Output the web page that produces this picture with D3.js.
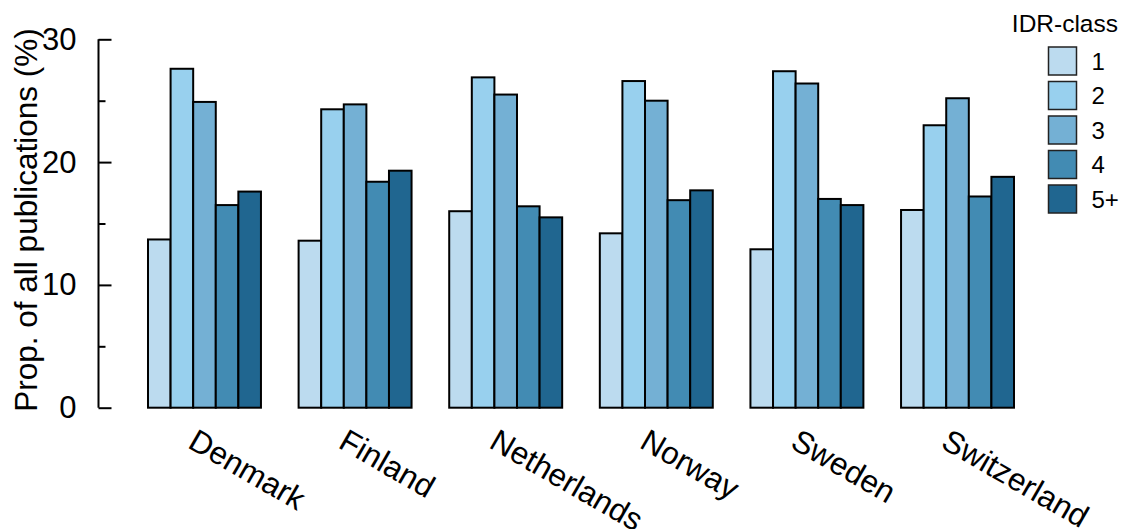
<!DOCTYPE html>
<html>
<head>
<meta charset="utf-8">
<script src="https://cdn.jsdelivr.net/npm/d3@7"></script>
<style>
  html, body { margin: 0; padding: 0; background: #fff; }
  svg { display: block; }
  text { font-family: "Liberation Sans", Arial, Helvetica, sans-serif; fill: #000; }
</style>
</head>
<body>
<svg id="chart" width="1127" height="529"></svg>
<script>
const countries = ["Denmark", "Finland", "Netherlands", "Norway", "Sweden", "Switzerland"];
const classes = ["1", "2", "3", "4", "5+"];
const classColors = ["#BCDBEF", "#98D0EE", "#74B0D4", "#428BB3", "#206690"];
const class1 = [13.7, 13.6, 16.0, 14.2, 12.9, 16.1];
const class2 = [27.6, 24.3, 26.9, 26.6, 27.4, 23.0];
const class3 = [24.9, 24.7, 25.5, 25.0, 26.4, 25.2];
const class4 = [16.5, 18.4, 16.4, 16.9, 17.0, 17.2];
const class5 = [17.6, 19.3, 15.5, 17.7, 16.5, 18.8];
const majorTicks = [0, 10, 20, 30];
const minorTicks = [5, 15, 25];
const yTitle = "Prop. of all publications (%)";
const legendTitle = "IDR-class";

const series = [class1, class2, class3, class4, class5];
const data = countries.map((c, i) => ({
  country: c,
  values: classes.map((k, j) => ({ cls: k, idx: j, value: series[j][i] }))
}));

const svg = d3.select("#chart");

const x0 = d3.scaleBand().domain(countries).range([148, 1014]).paddingInner(0.25).paddingOuter(0);
const x1 = d3.scaleBand().domain(classes).range([0, x0.bandwidth()]).padding(0);
const y = d3.scaleLinear().domain([0, 30]).range([407.7, 39.3]);
const color = d3.scaleOrdinal().domain(classes).range(classColors);

// bars
const groups = svg.append("g").selectAll("g")
  .data(data).join("g")
  .attr("transform", d => `translate(${x0(d.country)},0)`);

groups.selectAll("rect")
  .data(d => d.values).join("rect")
  .attr("x", d => x1(d.cls))
  .attr("y", d => y(d.value))
  .attr("width", x1.bandwidth())
  .attr("height", d => y(0) - y(d.value))
  .attr("fill", d => color(d.cls))
  .attr("stroke", "#000")
  .attr("stroke-width", 2);

// y axis (ticks pointing inward, to the right)
const axisX = 98.5;
const yAxis = d3.axisLeft(y).tickValues(majorTicks).tickSize(-13).tickPadding(22).tickFormat(d3.format("d"));
const gy = svg.append("g").attr("transform", `translate(${axisX},0)`).call(yAxis);
gy.select(".domain").attr("d", `M0,${y(0)}V${y(30)}`).attr("stroke", "#000").attr("stroke-width", 2);
gy.selectAll(".tick line").attr("stroke", "#000").attr("stroke-width", 2);
gy.selectAll(".tick text").attr("font-size", 31).attr("font-family", "Liberation Sans, Arial, sans-serif").attr("fill", "#000");

const yMinor = d3.axisLeft(y).tickValues(minorTicks).tickSize(-7).tickFormat("");
const gym = svg.append("g").attr("transform", `translate(${axisX},0)`).call(yMinor);
gym.select(".domain").remove();
gym.selectAll(".tick line").attr("stroke", "#000").attr("stroke-width", 2);

// y axis title
svg.append("text")
  .attr("transform", `translate(37,220) rotate(-90)`)
  .attr("text-anchor", "middle")
  .attr("font-size", 31.5)
  .text(yTitle);

// x labels
svg.append("g").selectAll("text")
  .data(countries).join("text")
  .attr("transform", d => `translate(${x0(d) + x0.bandwidth() / 2 - 18},447) rotate(30)`)
  .attr("text-anchor", "start")
  .attr("font-size", 31.5)
  .text(d => d);

// legend
const lg = svg.append("g");
lg.append("text")
  .attr("x", 1118).attr("y", 32)
  .attr("text-anchor", "end")
  .attr("font-size", 24.5)
  .text(legendTitle);
const items = lg.selectAll("g.item")
  .data(classes).join("g").attr("class", "item")
  .attr("transform", (d, i) => `translate(1048.5,${47 + i * 34.5})`);
items.append("rect")
  .attr("width", 28).attr("height", 28)
  .attr("fill", d => color(d))
  .attr("stroke", "#222").attr("stroke-width", 1.5);
items.append("text")
  .attr("x", 43).attr("y", 14)
  .attr("dy", "0.36em")
  .attr("font-size", 24)
  .text(d => d);
</script>
</body>
</html>
